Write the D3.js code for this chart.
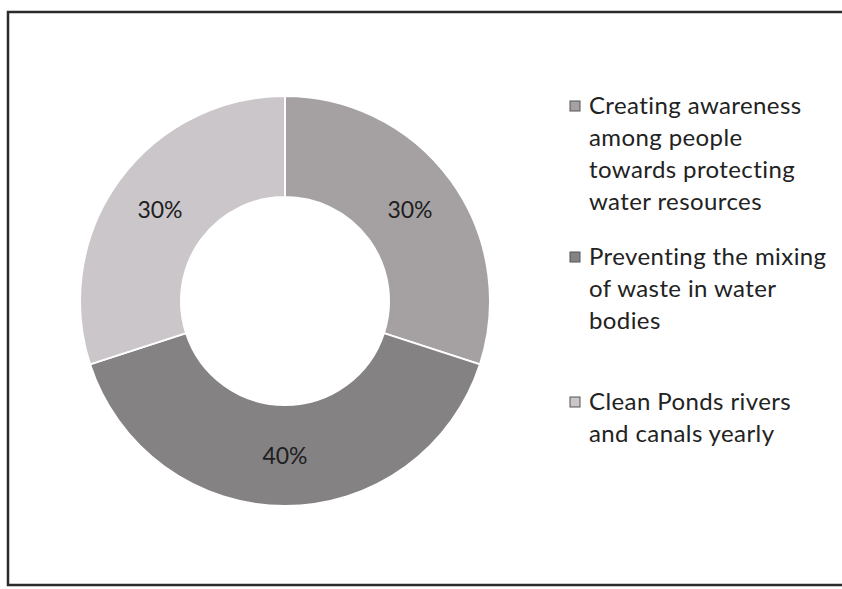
<!DOCTYPE html>
<html>
<head>
<meta charset="utf-8">
<script src="https://cdn.jsdelivr.net/npm/d3@7"></script>
<style>
  body { margin: 0; background: #fff; }
  svg { display: block; font-family: Lato, 'Open Sans', sans-serif; }
</style>
</head>
<body>
<div id="chart"></div>
<script>
const categories = [
  'Creating awareness among people towards protecting water resources',
  'Preventing the mixing of waste in water bodies',
  'Clean Ponds rivers and canals yearly'
]
const values = [30, 40, 30]
const valueLabels = ['30%', '40%', '30%']
// legend text split the way the picture wraps it
const legendLines = [
  ['Creating awareness', 'among people', 'towards protecting', 'water resources'],
  ['Preventing the mixing', 'of waste in water', 'bodies'],
  ['Clean Ponds rivers', 'and canals yearly']
]
const colors = ['#a5a1a3', '#858284', '#cbc6c9']

const width = 842
const height = 589
const cx = 285
const cy = 301
const outerR = 205
const innerR = 104

const svg = d3.select('#chart').append('svg')
  .attr('width', width)
  .attr('height', height)

// frame of the printed page
svg.append('rect')
  .attr('x', 8)
  .attr('y', 12)
  .attr('width', 860)
  .attr('height', 573)
  .attr('fill', 'none')
  .attr('stroke', '#2b2b2b')
  .attr('stroke-width', 2.5)

const pie = d3.pie().sort(null).value(d => d)
const arc = d3.arc().innerRadius(innerR).outerRadius(outerR)
const color = d3.scaleOrdinal().domain(d3.range(values.length)).range(colors)

const $vis = svg.append('g').attr('transform', `translate(${cx},${cy})`)

const slices = $vis.selectAll('.slice')
  .data(pie(values))
  .enter()
  .append('g')
  .attr('class', 'slice')

slices.append('path')
  .attr('d', arc)
  .attr('fill', (d, i) => color(i))
  .attr('stroke', '#fff')
  .attr('stroke-width', 2)

slices.append('text')
  .attr('transform', d => `translate(${arc.centroid(d)})`)
  .attr('text-anchor', 'middle')
  .attr('dy', '0.35em')
  .attr('font-size', 23)
  .attr('fill', '#1e1e1e')
  .text((d, i) => valueLabels[i])

// legend
const legendX = 575
const legendTop = [106, 257, 402]
const lineH = 32

const legend = svg.selectAll('.legend')
  .data(categories)
  .enter()
  .append('g')
  .attr('class', 'legend')
  .attr('transform', (d, i) => `translate(${legendX},${legendTop[i]})`)

legend.append('rect')
  .attr('x', -5)
  .attr('y', -5)
  .attr('width', 10)
  .attr('height', 10)
  .attr('fill', (d, i) => color(i))
  .attr('stroke', '#555')
  .attr('stroke-width', 1)

legend.append('text')
  .attr('x', 14)
  .attr('font-size', 24)
  .attr('letter-spacing', 0.4)
  .attr('fill', '#222')
  .selectAll('tspan')
  .data((d, i) => legendLines[i])
  .enter()
  .append('tspan')
  .attr('x', 14)
  .attr('y', (d, j) => j * lineH)
  .attr('dy', '0.35em')
  .text(d => d)
</script>
</body>
</html>
